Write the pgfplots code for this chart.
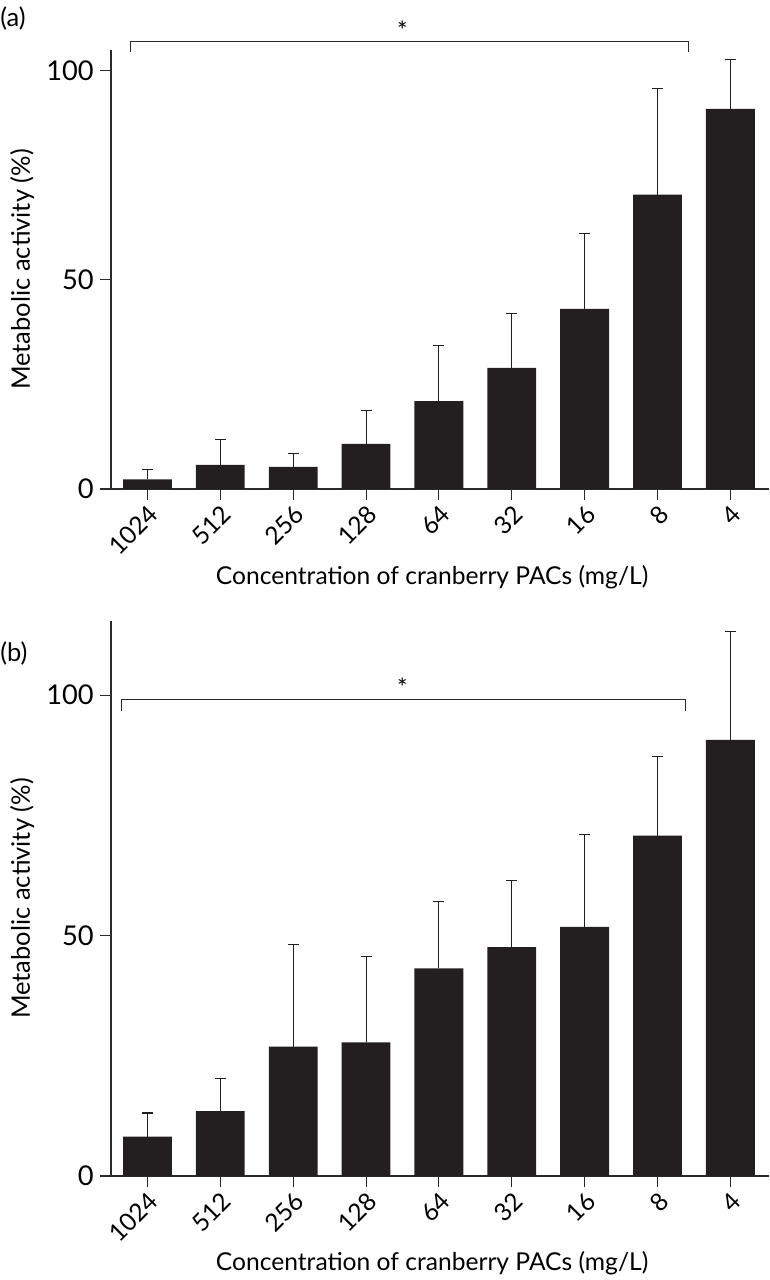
\documentclass[border=0pt]{standalone}
\usepackage{pgfplots}
\pgfplotsset{compat=1.18}
\usepackage{fontspec}
\setmainfont{Lato}
\definecolor{barblack}{HTML}{231F20}
\definecolor{axgray}{HTML}{2A2A2A}

% bar height and upward error (top of whisker minus bar)
\pgfplotstableread{
x  y     e
0  2.3   2.4
1  5.8   6.0
2  5.3   3.1
3  10.8  8.0
4  21.0  13.3
5  29.0  12.9
6  43.1  18.0
7  70.4  25.5
8  90.9  11.9
}\dataA

\pgfplotstableread{
x  y     e
0  8.2   4.9
1  13.5  6.8
2  26.9  21.2
3  27.8  17.8
4  43.2  13.8
5  47.6  13.9
6  51.8  19.2
7  70.8  16.5
8  90.7  22.6
}\dataB

\pgfplotsset{panel/.style={
    scale only axis, width=13.16cm, anchor=south west,
    axis lines=left, axis line style={-, line width=0.6pt, color=axgray},
    xmin=-0.5, xmax=8.53, ymin=0,
    xtick={0,...,8}, xticklabels={1024,512,256,128,64,32,16,8,4},
    ytick={0,50,100},
    tick align=outside, major tick length=0.22cm,
    tick style={line width=0.6pt, color=axgray},
    yticklabel style={font=\fontsize{15.5}{18}\selectfont},
    xticklabel style={font=\fontsize{14}{17}\selectfont,
      rotate=45, anchor=north east, xshift=2pt, yshift=2pt},
    /pgf/number format/assume math mode=true,
    xlabel={Concentration of cranberry PACs (mg/L)},
    ylabel={Metabolic activity (\%)},
    xlabel style={font=\fontsize{14}{17}\selectfont},
    ylabel style={font=\fontsize{14.5}{17}\selectfont,
      at={(axis description cs:-0.135,0.5)}, anchor=center},
    ybar, bar width=0.67,
    clip=false,
  },
  barplot/.style={
    fill=barblack, draw=none,
    error bars/.cd, y dir=plus, y explicit,
    error bar style={line width=0.6pt, color=barblack},
    error mark options={rotate=90, mark size=0.11cm, line width=0.6pt, color=barblack},
  }
}

\begin{document}
\begin{tikzpicture}
\useasboundingbox (0,0) rectangle (15.38,-25.6);

\node[anchor=north west, inner sep=0, font=\fontsize{14.5}{17}\selectfont] at (0,-0.12) {(a)};
\node[anchor=north west, inner sep=0, font=\fontsize{14.5}{17}\selectfont] at (0,-12.82) {(b)};

\begin{axis}[panel, at={(2.22cm,-9.78cm)}, height=8.78cm, ymax=105,
    xlabel style={at={(axis description cs:0.488,-0.2)}, anchor=center}]
\addplot[barplot] table[x=x, y=y, y error=e] {\dataA};
\draw[line width=0.6pt, axgray] (axis cs:-0.23,104.5) -- (axis cs:-0.23,107)
    -- (axis cs:7.43,107) -- (axis cs:7.43,104.5);
\node[font=\fontsize{14}{17}\selectfont] at (axis cs:3.5,109.8) {*};
\end{axis}

\begin{axis}[panel, at={(2.22cm,-23.52cm)}, height=11.1cm, ymax=115.4,
    xlabel style={at={(axis description cs:0.488,-0.157)}, anchor=center}]
\addplot[barplot] table[x=x, y=y, y error=e] {\dataB};
\draw[line width=0.6pt, axgray] (axis cs:-0.36,96.7) -- (axis cs:-0.36,99.1)
    -- (axis cs:7.39,99.1) -- (axis cs:7.39,96.7);
\node[font=\fontsize{14}{17}\selectfont] at (axis cs:3.5,101.6) {*};
\end{axis}
\end{tikzpicture}
\end{document}
